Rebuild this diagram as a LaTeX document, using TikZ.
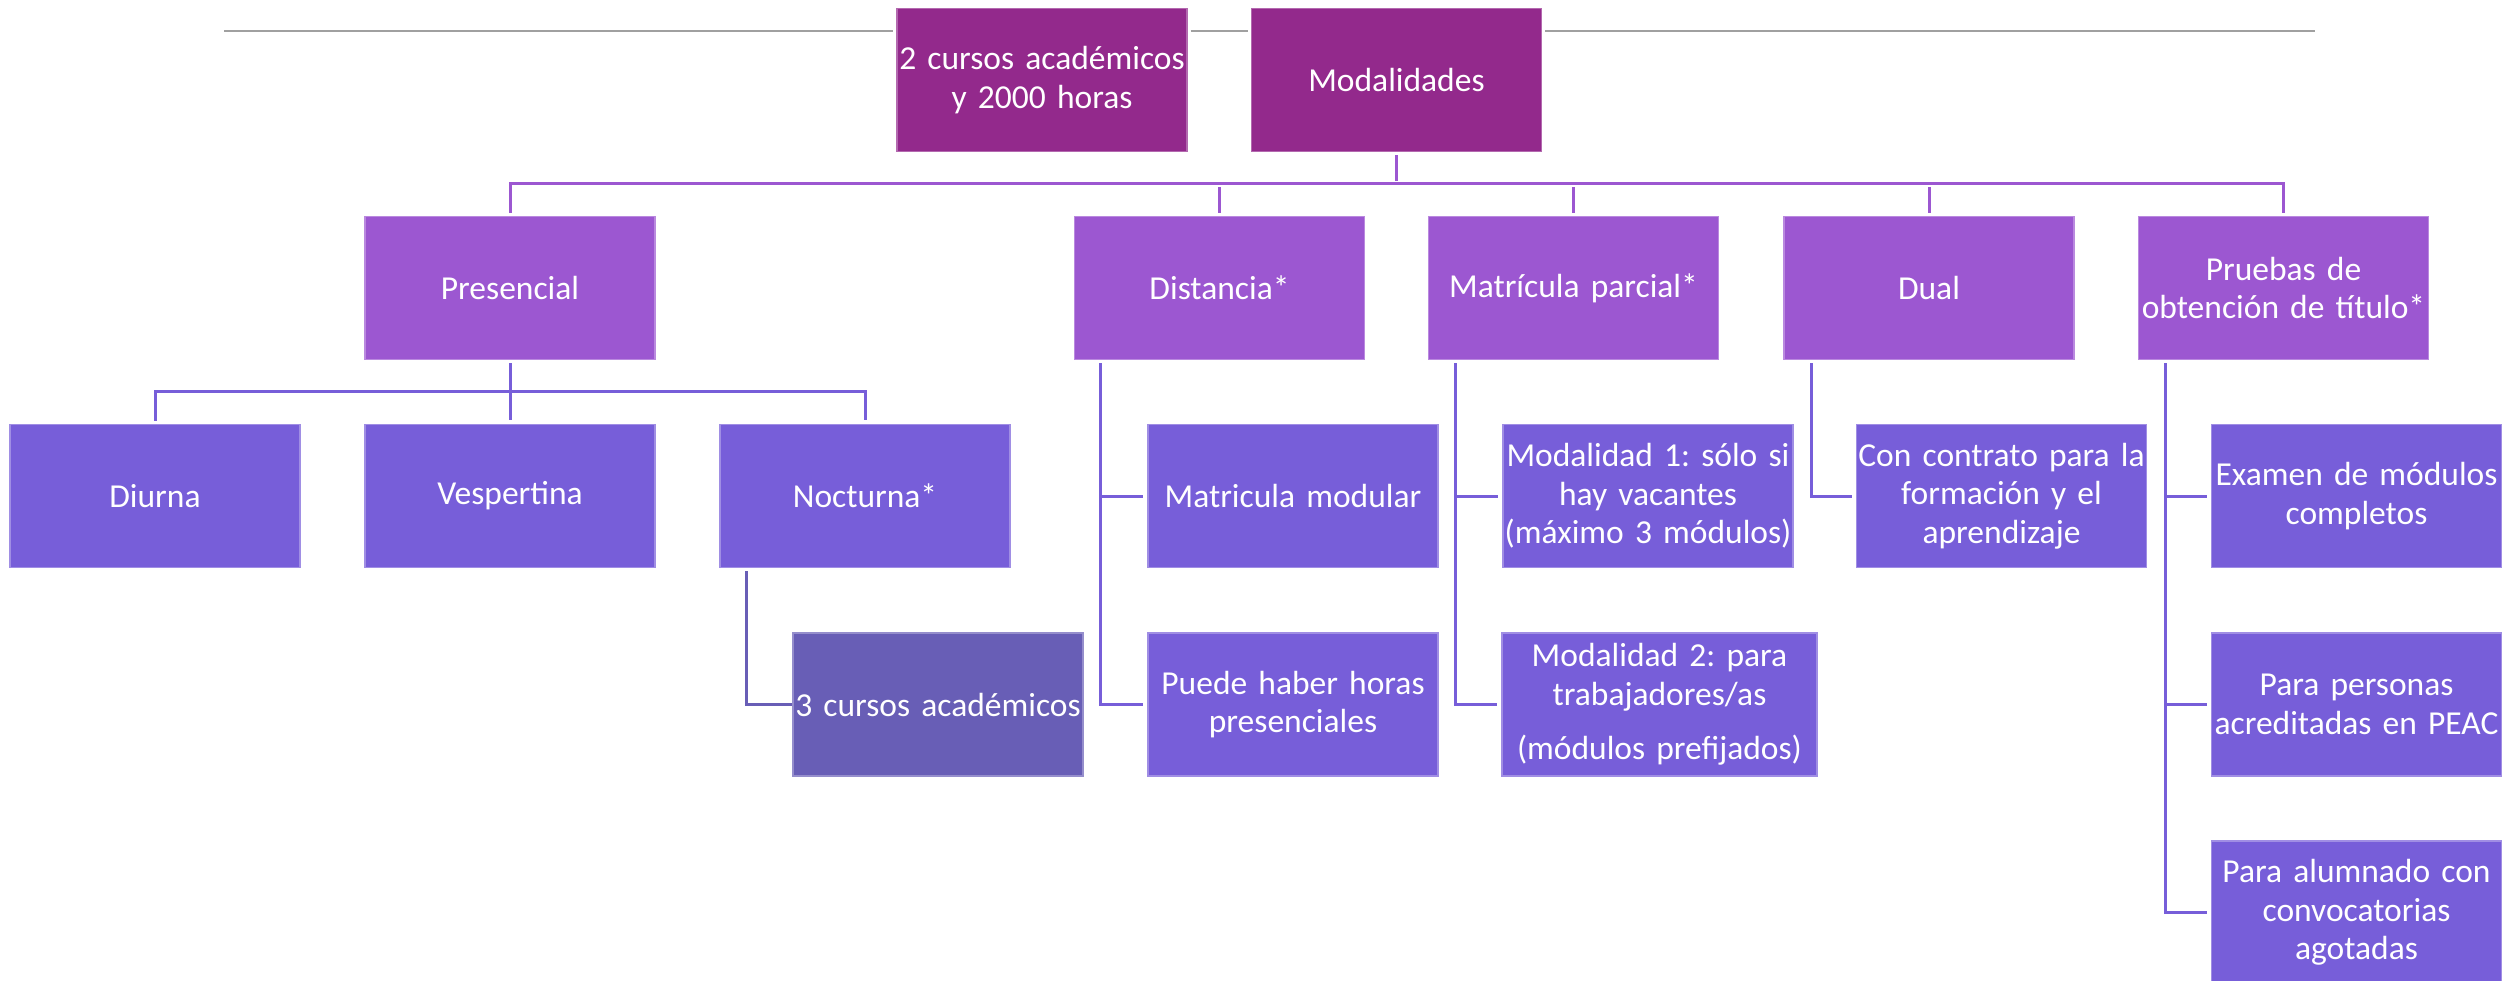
\documentclass[tikz,border=0pt]{standalone}
\usepackage{fontspec}
\setmainfont{Carlito}
\frenchspacing
\definecolor{ctop}{RGB}{147,41,140}
\definecolor{clvtwo}{RGB}{156,87,209}
\definecolor{clvthree}{RGB}{119,94,217}
\definecolor{clvfour}{RGB}{104,94,182}
\definecolor{cgray}{RGB}{160,160,160}
\tikzset{
  box/.style={rectangle, text=white, align=center, text width=300pt, inner xsep=-5pt, inner ysep=0pt,
    minimum width=290pt, minimum height=143pt, font=\fontsize{33.5}{38.5}\selectfont\frenchspacing, line width=1.2pt},
  topbox/.style={box, fill=ctop, draw=ctop!70!white},
  lvtwo/.style={box, fill=clvtwo, draw=clvtwo!70!white},
  lvthree/.style={box, fill=clvthree, draw=clvthree!70!white},
  lvfour/.style={box, fill=clvfour, draw=clvfour!70!white},
  conone/.style={draw=clvtwo, line width=3pt, shorten <=3pt, shorten >=3pt},
  contwo/.style={draw=clvthree, line width=3pt, shorten <=3pt, shorten >=4pt},
  conthree/.style={draw=clvfour, line width=3pt, shorten <=3pt, shorten >=3pt},
  grayline/.style={draw=cgray, line width=2.5pt}
}
\begin{document}
\begin{tikzpicture}[x=1pt,y=-1pt]
\useasboundingbox (0,0) rectangle (2509,981);
% top row
\node[topbox] (cursos) at (1042,80) {2 cursos académicos\\y 2000 horas};
\node[topbox] (mod) at (1396.5,80) {Modalidades};
% gray line
\coordinate (gla) at (224,31);
\coordinate (glb) at (2315,31);
\draw[grayline, shorten >=3pt] (gla) -- (gla -| cursos.west);
\draw[grayline, shorten <=3pt, shorten >=3pt] (gla -| cursos.east) -- (gla -| mod.west);
\draw[grayline, shorten <=3pt] (gla -| mod.east) -- (glb);
% level 2
\node[lvtwo] (pres) at (510,288) {Presencial};
\node[lvtwo] (dist) at (1219.5,288) {Distancia*};
\node[lvtwo] (mpar) at (1573.5,288) {Matrícula parcial*};
\node[lvtwo] (dual) at (1929,288) {Dual};
\node[lvtwo] (prue) at (2283.5,288) {Pruebas de\\obtención de título*};
% level 3
\node[lvthree] (diur) at (155,496) {Diurna};
\node[lvthree] (vesp) at (510,496) {Vespertina};
\node[lvthree] (noct) at (865,496) {Nocturna*};
\node[lvthree] (mmod) at (1293,496) {Matricula modular};
\node[lvthree] (moda) at (1648,496) {Modalidad 1: sólo si\\hay vacantes\\(máximo 3 módulos)};
\node[lvthree] (cont) at (2001.5,496) {Con contrato para la\\formación y el\\aprendizaje};
\node[lvthree] (exam) at (2356.5,496) {Examen de módulos\\completos};
% level 4
\node[lvfour] (tres) at (938,704.5) {3 cursos académicos};
\node[lvthree] (phor) at (1293,704.5) {Puede haber horas\\presenciales};
\node[lvthree, text width=325pt, minimum width=315pt] (modb) at (1659.5,704.5) {Modalidad 2: para\\trabajadores/as\\[16pt](módulos prefijados)};
\node[lvthree] (peac) at (2356.5,704.5) {Para personas\\acreditadas en PEAC};
\node[lvthree] (alum) at (2356.5,912.5) {Para alumnado con\\convocatorias\\agotadas};
% level 1 connectors
\coordinate (busa) at (0,184);
\draw[conone] (mod.south) -- (mod.south |- busa);
\draw[conone] (pres.north) -- (pres.north |- busa) -| (prue.north);
\draw[conone] (dist.north) -- (dist.north |- busa);
\draw[conone] (mpar.north) -- (mpar.north |- busa);
\draw[conone] (dual.north) -- (dual.north |- busa);
% presencial connectors
\coordinate (busb) at (0,392);
\draw[contwo] (pres.south) -- (vesp.north);
\draw[contwo] (diur.north) -- (diur.north |- busb) -| (noct.north);
% nocturna
\draw[conthree, shorten >=0pt] ([xshift=27pt]noct.south west) |- (tres.west);
% distancia
\draw[contwo] ([xshift=27pt]dist.south west) |- (mmod.west);
\draw[contwo] ([xshift=27pt]dist.south west) |- (phor.west);
% matricula parcial
\draw[contwo] ([xshift=28pt]mpar.south west) |- (moda.west);
\draw[contwo] ([xshift=28pt]mpar.south west) |- (modb.west);
% dual
\draw[contwo] ([xshift=28pt]dual.south west) |- (cont.west);
% pruebas
\draw[contwo] ([xshift=28pt]prue.south west) |- (exam.west);
\draw[contwo] ([xshift=28pt]prue.south west) |- (peac.west);
\draw[contwo] ([xshift=28pt]prue.south west) |- (alum.west);
\end{tikzpicture}
\end{document}
